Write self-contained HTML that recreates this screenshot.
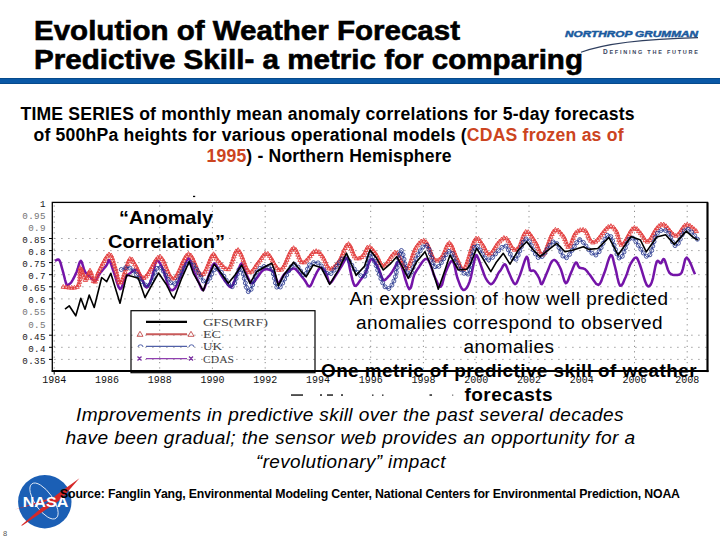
<!DOCTYPE html>
<html><head><meta charset="utf-8"><style>
html,body{margin:0;padding:0;background:#fff;width:720px;height:540px;overflow:hidden}
svg{display:block}
</style></head><body>
<svg width="720" height="540" viewBox="0 0 720 540">
<rect width="720" height="540" fill="#fff"/>
<!-- title -->
<g font-family="Liberation Sans" font-weight="bold" fill="#000" font-size="27.8" stroke="#000" stroke-width="0.6">
<text x="34" y="39.8" textLength="426" lengthAdjust="spacingAndGlyphs">Evolution of Weather Forecast</text>
<text x="34" y="68.8" textLength="549" lengthAdjust="spacingAndGlyphs">Predictive Skill- a metric for comparing</text>
</g>
<rect x="0" y="78" width="720" height="6" fill="#0a58a6"/><rect x="0" y="78" width="720" height="1" fill="#064a8c"/><rect x="0" y="83" width="720" height="1" fill="#064a8c"/>
<!-- NG logo -->
<text x="565" y="36.6" font-family="Liberation Sans" font-weight="bold" font-style="italic" font-size="8.6" fill="#1a5a9e" stroke="#1a5a9e" stroke-width="0.45" textLength="133" lengthAdjust="spacingAndGlyphs">NORTHROP GRUMMAN</text>
<path d="M581,52.3 Q615,39.5 698,37.6" fill="none" stroke="#2e3e5e" stroke-width="1.1"/>
<text x="603" y="53.8" font-family="Liberation Sans" font-weight="bold" font-size="5.5" fill="#3a4560" textLength="95" lengthAdjust="spacing"><tspan font-size="6.5">D</tspan>EFINING THE FUTURE</text>
<!-- subtitle -->
<g font-family="Liberation Sans" font-weight="bold" font-size="17.6" fill="#000">
<text x="20.5" y="120" textLength="614" lengthAdjust="spacing">TIME SERIES of monthly mean anomaly correlations for 5-day forecasts</text>
<text x="33.5" y="141" textLength="590" lengthAdjust="spacing">of 500hPa heights for various operational models (<tspan fill="#cc4420">CDAS frozen as of</tspan></text>
<text x="206.5" y="162.3" textLength="245" lengthAdjust="spacing"><tspan fill="#cc4420">1995</tspan>) - Northern Hemisphere</text>
</g>
<!-- chart -->

<g stroke="#8a8a8a" stroke-width="1" stroke-dasharray="1.2 5.8" fill="none"><line x1="54.3" y1="238.5" x2="707.5" y2="238.5"/><line x1="54.3" y1="250.6" x2="707.5" y2="250.6"/><line x1="54.3" y1="262.6" x2="707.5" y2="262.6"/><line x1="54.3" y1="274.7" x2="707.5" y2="274.7"/><line x1="54.3" y1="286.8" x2="707.5" y2="286.8"/><line x1="54.3" y1="298.9" x2="707.5" y2="298.9"/><line x1="54.3" y1="335.2" x2="707.5" y2="335.2"/><line x1="54.3" y1="347.3" x2="707.5" y2="347.3"/><line x1="54.3" y1="359.4" x2="707.5" y2="359.4"/></g>
<g stroke="#8a8a8a" stroke-width="1" stroke-dasharray="1.2 4.2" fill="none"><line x1="54.2" y1="205.4" x2="54.2" y2="371.1"/><line x1="159.7" y1="205.4" x2="159.7" y2="371.1"/><line x1="212.4" y1="205.4" x2="212.4" y2="371.1"/><line x1="265.2" y1="205.4" x2="265.2" y2="371.1"/><line x1="370.7" y1="205.4" x2="370.7" y2="371.1"/><line x1="423.4" y1="205.4" x2="423.4" y2="371.1"/><line x1="476.2" y1="205.4" x2="476.2" y2="371.1"/><line x1="529.0" y1="205.4" x2="529.0" y2="371.1"/><line x1="634.5" y1="205.4" x2="634.5" y2="371.1"/><line x1="687.2" y1="205.4" x2="687.2" y2="371.1"/></g>
<g font-family="Liberation Mono" font-size="9.2" fill="#111" letter-spacing="0.35" opacity="0.9"><text x="45.8" y="206.6" text-anchor="end" fill="#000">1</text><text x="45.8" y="218.7" text-anchor="end" fill="#666">0.95</text><text x="45.8" y="230.8" text-anchor="end" fill="#666">0.9</text><text x="45.8" y="242.9" text-anchor="end" fill="#000">0.85</text><text x="45.8" y="255.0" text-anchor="end" fill="#000">0.8</text><text x="45.8" y="267.0" text-anchor="end" fill="#000">0.75</text><text x="45.8" y="279.1" text-anchor="end" fill="#000">0.7</text><text x="45.8" y="291.2" text-anchor="end" fill="#000">0.65</text><text x="45.8" y="303.3" text-anchor="end" fill="#000">0.6</text><text x="45.8" y="315.4" text-anchor="end" fill="#666">0.55</text><text x="45.8" y="327.5" text-anchor="end" fill="#666">0.5</text><text x="45.8" y="339.6" text-anchor="end" fill="#000">0.45</text><text x="45.8" y="351.7" text-anchor="end" fill="#000">0.4</text><text x="45.8" y="363.8" text-anchor="end" fill="#000">0.35</text></g>
<g font-family="Liberation Mono" font-size="10" fill="#111"><text x="54.2" y="383" text-anchor="middle">1984</text><text x="107.0" y="383" text-anchor="middle">1986</text><text x="159.7" y="383" text-anchor="middle">1988</text><text x="212.4" y="383" text-anchor="middle">1990</text><text x="265.2" y="383" text-anchor="middle">1992</text><text x="317.9" y="383" text-anchor="middle">1994</text><text x="370.7" y="383" text-anchor="middle">1996</text><text x="423.4" y="383" text-anchor="middle">1998</text><text x="476.2" y="383" text-anchor="middle">2000</text><text x="529.0" y="383" text-anchor="middle">2002</text><text x="581.7" y="383" text-anchor="middle">2004</text><text x="634.5" y="383" text-anchor="middle">2006</text><text x="687.2" y="383" text-anchor="middle">2008</text></g>
<g stroke="#000" stroke-width="1"><line x1="49" y1="238.5" x2="52.3" y2="238.5"/><line x1="49" y1="250.6" x2="52.3" y2="250.6"/><line x1="49" y1="262.6" x2="52.3" y2="262.6"/><line x1="49" y1="274.7" x2="52.3" y2="274.7"/><line x1="49" y1="286.8" x2="52.3" y2="286.8"/><line x1="49" y1="298.9" x2="52.3" y2="298.9"/><line x1="49" y1="335.2" x2="52.3" y2="335.2"/><line x1="49" y1="347.3" x2="52.3" y2="347.3"/><line x1="49" y1="359.4" x2="52.3" y2="359.4"/></g>
<path d="M55.0,260.8 L55.8,260.4 L56.9,259.8 L58.1,259.5 L59.2,260.0 L60.1,261.7 L60.9,264.2 L61.7,267.1 L62.5,270.0 L63.4,273.2 L64.3,276.7 L65.1,280.0 L65.8,282.5 L66.3,284.0 L66.6,284.7 L66.9,285.0 L67.5,285.0 L68.4,284.7 L69.4,284.1 L70.5,283.1 L71.7,281.7 L72.9,279.7 L74.2,277.2 L75.5,274.4 L76.7,271.7 L77.8,268.5 L78.8,264.9 L79.8,262.0 L80.8,260.8 L81.8,262.1 L82.8,265.3 L83.9,268.9 L85.0,271.7 L86.2,273.4 L87.5,274.6 L88.7,275.7 L90.0,276.7 L91.2,278.1 L92.5,279.5 L93.8,280.6 L95.0,280.8 L96.2,279.8 L97.4,277.8 L98.6,275.5 L100.0,273.3 L101.7,271.2 L103.5,269.0 L105.3,266.9 L106.7,265.0 L107.6,263.1 L108.1,261.2 L108.5,259.9 L109.2,260.0 L110.3,262.0 L111.5,265.3 L112.8,269.4 L114.2,273.3 L115.6,277.7 L117.1,282.8 L118.6,287.0 L120.0,289.2 L121.3,288.2 L122.5,285.1 L123.8,281.2 L125.0,278.3 L126.2,276.6 L127.4,275.3 L128.6,274.3 L130.0,273.3 L131.6,272.1 L133.3,270.8 L135.1,270.0 L136.7,270.0 L138.1,271.2 L139.3,273.4 L140.5,275.9 L141.7,278.3 L142.9,281.0 L144.2,284.0 L145.4,286.5 L146.7,287.5 L147.9,286.7 L149.2,284.6 L150.4,281.6 L151.7,278.3 L152.9,273.9 L154.1,268.4 L155.3,263.5 L156.7,260.8 L158.3,261.0 L159.9,263.2 L161.7,266.5 L163.3,270.0 L164.8,274.3 L166.3,279.6 L167.7,284.5 L169.2,288.0 L170.6,289.7 L172.1,290.2 L173.5,289.7 L175.0,288.3 L176.6,285.6 L178.3,281.8 L180.0,277.4 L181.7,273.3 L183.4,268.9 L185.1,264.1 L186.8,260.2 L188.3,258.3 L189.6,259.3 L190.8,262.4 L192.0,266.3 L193.3,270.0 L194.8,273.4 L196.3,277.0 L197.8,280.4 L199.2,283.3 L200.3,285.9 L201.3,288.3 L202.3,289.9 L203.3,290.0 L204.5,288.1 L205.7,284.6 L207.0,280.5 L208.3,276.7 L209.7,272.8 L211.2,268.5 L212.7,265.0 L214.2,263.3 L215.6,264.2 L217.1,266.8 L218.5,270.3 L220.0,273.3 L221.7,276.0 L223.4,278.7 L225.1,281.3 L226.7,283.3 L228.1,285.0 L229.3,286.4 L230.5,287.1 L231.7,286.7 L232.9,284.8 L234.2,281.8 L235.4,278.3 L236.7,275.0 L237.9,271.5 L239.2,267.7 L240.4,264.6 L241.7,263.3 L242.9,264.7 L244.2,267.9 L245.4,271.8 L246.7,275.0 L247.9,277.6 L249.2,280.2 L250.4,282.2 L251.7,283.3 L252.9,283.1 L254.1,281.8 L255.3,280.1 L256.7,278.3 L258.2,276.3 L259.9,273.8 L261.6,271.6 L263.3,270.0 L265.0,269.3 L266.8,269.3 L268.5,269.6 L270.0,270.0 L271.2,270.4 L272.3,271.0 L273.2,271.9 L274.2,273.3 L275.2,275.7 L276.2,278.9 L277.2,281.7 L278.3,283.0 L279.6,282.1 L281.0,279.7 L282.5,276.9 L283.9,274.7 L285.3,273.3 L286.7,272.3 L288.1,271.4 L289.4,270.6 L290.7,269.8 L291.9,269.0 L293.1,268.5 L294.3,268.5 L295.5,269.2 L296.7,270.3 L297.9,271.8 L299.2,273.3 L300.5,274.9 L301.9,276.7 L303.4,278.6 L304.7,280.3 L306.0,282.3 L307.2,284.4 L308.4,286.0 L309.6,286.5 L310.8,285.3 L312.0,283.0 L313.1,280.2 L314.4,277.5 L315.7,274.8 L317.1,271.8 L318.6,269.3 L320.0,267.8 L321.4,267.7 L322.9,268.5 L324.3,270.1 L325.6,271.9 L326.7,274.6 L327.7,278.1 L328.6,281.3 L329.7,283.0 L331.0,282.6 L332.3,280.9 L333.8,278.5 L335.3,276.1 L337.0,273.5 L338.8,270.6 L340.6,267.6 L342.2,265.0 L343.6,262.5 L344.9,259.9 L346.0,258.2 L347.1,258.0 L348.1,260.0 L348.9,263.7 L349.7,268.0 L350.6,272.0 L351.5,275.9 L352.5,280.1 L353.6,283.7 L354.7,285.8 L356.0,285.8 L357.4,284.4 L358.9,282.3 L360.3,280.3 L361.7,278.5 L363.1,276.5 L364.5,274.3 L365.8,272.0 L367.0,269.2 L368.0,265.9 L369.0,262.9 L370.0,260.8 L370.8,259.6 L371.5,259.1 L372.3,259.2 L373.3,260.0 L374.6,261.7 L376.2,264.3 L377.8,267.2 L379.2,270.0 L380.3,272.8 L381.3,275.8 L382.3,278.4 L383.3,280.0 L384.5,280.2 L385.7,279.4 L387.0,278.1 L388.3,276.7 L389.6,275.3 L390.8,273.7 L392.1,271.9 L393.3,270.0 L394.6,267.7 L395.9,265.1 L397.2,262.9 L398.3,261.7 L399.2,261.6 L399.8,262.3 L400.6,263.9 L401.7,266.7 L403.3,272.0 L405.3,279.1 L407.4,285.7 L409.2,289.2 L410.6,288.1 L411.9,284.0 L413.0,279.0 L414.2,275.0 L415.4,272.5 L416.7,270.4 L417.9,268.6 L419.2,266.7 L420.6,264.5 L422.1,262.3 L423.6,260.4 L425.0,259.2 L426.1,258.8 L427.1,259.0 L428.1,259.9 L429.2,261.7 L430.5,264.9 L432.0,269.2 L433.5,273.7 L435.0,277.5 L436.5,280.8 L437.9,284.0 L439.4,286.3 L440.8,286.7 L442.1,284.6 L443.2,280.5 L444.4,275.7 L445.8,271.7 L447.4,268.0 L449.2,264.2 L450.9,261.4 L452.5,260.8 L453.9,263.3 L455.1,268.1 L456.2,273.7 L457.5,278.3 L458.9,282.1 L460.3,285.8 L461.8,288.6 L463.3,290.0 L464.9,289.7 L466.5,288.1 L468.1,285.3 L469.6,281.7 L471.1,276.3 L472.5,269.4 L473.9,262.7 L475.0,258.0 L475.8,255.8 L476.3,255.0 L476.8,255.5 L477.5,256.7 L478.6,259.1 L479.9,262.7 L481.3,266.7 L482.5,270.0 L483.4,272.5 L484.1,274.6 L484.9,276.5 L485.8,278.3 L486.9,280.2 L488.2,282.0 L489.6,283.5 L490.8,284.2 L491.9,283.9 L493.0,282.9 L494.0,281.5 L495.0,280.0 L495.9,278.4 L496.8,276.6 L497.6,274.8 L498.3,273.3 L498.9,272.3 L499.5,271.6 L500.1,270.9 L500.8,270.0 L501.7,268.4 L502.8,266.3 L503.9,264.7 L505.0,264.2 L506.0,265.4 L507.0,267.7 L508.0,270.5 L509.2,273.3 L510.6,276.4 L512.1,279.9 L513.6,282.8 L515.0,284.2 L516.3,283.5 L517.4,281.4 L518.6,278.4 L520.0,275.0 L521.6,270.3 L523.5,264.4 L525.2,259.3 L526.7,256.7 L527.7,258.1 L528.5,262.2 L529.2,266.8 L530.0,270.0 L531.0,270.9 L532.0,270.8 L533.1,270.4 L534.2,270.8 L535.5,272.2 L536.8,274.2 L538.1,276.4 L539.2,278.3 L539.9,280.3 L540.5,282.4 L541.0,283.9 L541.7,284.2 L542.8,282.7 L544.0,279.8 L545.4,276.5 L546.7,273.3 L548.0,270.2 L549.3,266.9 L550.5,263.9 L551.7,261.7 L552.8,260.5 L553.8,260.0 L554.7,260.1 L555.8,260.8 L557.0,262.1 L558.2,264.1 L559.5,266.5 L560.8,269.2 L562.0,272.9 L563.3,277.4 L564.5,281.3 L565.8,283.3 L567.0,282.5 L568.3,279.9 L569.5,276.4 L570.8,273.3 L572.1,270.3 L573.4,267.0 L574.7,264.1 L575.8,262.5 L576.7,262.7 L577.5,264.2 L578.2,266.1 L579.2,267.5 L580.5,268.1 L582.0,268.3 L583.6,268.6 L585.0,269.2 L586.2,270.3 L587.3,271.6 L588.5,273.2 L590.0,275.0 L591.9,277.7 L594.1,281.1 L596.3,283.9 L598.3,285.0 L599.9,283.8 L601.4,280.9 L602.7,277.2 L604.2,273.3 L605.9,268.5 L607.6,262.7 L609.3,257.6 L610.8,255.0 L612.0,255.6 L613.0,258.5 L613.9,262.6 L615.0,266.7 L616.2,271.6 L617.4,277.5 L618.7,282.8 L620.0,285.8 L621.4,285.6 L623.0,283.2 L624.4,279.8 L625.8,276.7 L626.9,273.9 L627.9,270.8 L628.9,267.7 L630.0,265.0 L631.4,262.5 L632.9,260.1 L634.4,258.2 L635.8,257.5 L636.9,258.0 L637.8,259.5 L638.8,261.9 L640.0,265.0 L641.5,269.6 L643.3,275.6 L645.1,281.3 L646.7,285.0 L648.1,286.4 L649.3,286.3 L650.5,284.9 L651.7,282.5 L653.0,278.1 L654.3,271.8 L655.5,265.8 L656.7,261.7 L657.8,260.7 L658.9,261.5 L659.8,262.8 L660.8,263.3 L661.7,262.3 L662.4,260.5 L663.3,259.1 L664.2,259.2 L665.3,261.6 L666.5,265.4 L667.8,269.5 L669.2,272.5 L670.8,274.0 L672.4,274.7 L674.2,275.0 L675.8,275.0 L677.3,275.0 L678.8,274.8 L680.3,274.1 L681.7,272.5 L682.9,268.9 L684.1,263.8 L685.2,259.3 L686.7,257.5 L688.7,259.8 L691.2,264.9 L693.4,270.5 L695.0,274.2" fill="none" stroke="#7414a8" stroke-width="2.5" stroke-linejoin="round"/>
<path d="M61.1,288.3L63.3,284.5L65.5,288.3ZM63.9,288.6L66.1,284.8L68.3,288.6ZM66.7,289.0L68.9,285.1L71.1,289.0ZM69.5,289.2L71.7,285.4L73.9,289.2ZM72.2,289.1L74.4,285.3L76.6,289.1ZM74.9,288.3L77.1,284.4L79.3,288.3ZM76.6,286.2L78.8,282.3L81.0,286.2ZM77.2,283.4L79.4,279.6L81.6,283.4ZM77.5,280.7L79.7,276.8L81.9,280.7ZM77.6,277.9L79.8,274.0L82.0,277.9ZM77.6,275.1L79.8,271.2L82.0,275.1ZM77.7,272.3L79.9,268.4L82.1,272.3ZM78.0,269.5L80.2,265.6L82.4,269.5ZM79.4,270.9L81.6,267.0L83.8,270.9ZM80.3,273.5L82.5,269.7L84.7,273.5ZM81.1,276.2L83.3,272.4L85.5,276.2ZM81.9,278.9L84.1,275.0L86.3,278.9ZM83.2,281.4L85.4,277.5L87.6,281.4ZM84.8,279.7L87.0,275.9L89.2,279.7ZM85.6,277.1L87.8,273.2L90.0,277.1ZM86.4,274.4L88.6,270.6L90.8,274.4ZM87.8,272.1L90.0,268.2L92.2,272.1ZM89.0,274.5L91.2,270.6L93.4,274.5ZM89.8,277.2L92.0,273.3L94.2,277.2ZM90.5,279.9L92.7,276.0L94.9,279.9ZM91.3,282.6L93.5,278.7L95.7,282.6ZM93.0,283.1L95.2,279.2L97.4,283.1ZM94.0,280.4L96.2,276.6L98.4,280.4ZM94.7,277.7L96.9,273.9L99.1,277.7ZM95.6,275.1L97.8,271.2L100.0,275.1ZM96.8,272.5L99.0,268.7L101.2,272.5ZM98.0,270.0L100.2,266.2L102.4,270.0ZM99.3,267.5L101.5,263.7L103.7,267.5ZM100.5,265.0L102.7,261.2L104.9,265.0ZM101.9,262.5L104.1,258.7L106.3,262.5ZM103.2,260.1L105.4,256.3L107.6,260.1ZM104.8,257.8L107.0,253.9L109.2,257.8ZM106.8,255.9L109.0,252.0L111.2,255.9ZM109.0,257.0L111.2,253.1L113.4,257.0ZM110.1,259.5L112.3,255.7L114.5,259.5ZM110.9,262.2L113.1,258.3L115.3,262.2ZM111.7,264.9L113.9,261.0L116.1,264.9ZM112.5,267.6L114.7,263.7L116.9,267.6ZM113.4,270.2L115.6,266.4L117.8,270.2ZM114.1,272.9L116.3,269.1L118.5,272.9ZM114.7,275.7L116.9,271.8L119.1,275.7ZM115.3,278.4L117.5,274.6L119.7,278.4ZM115.9,281.1L118.1,277.3L120.3,281.1ZM116.8,283.8L119.0,279.9L121.2,283.8ZM118.8,283.8L121.0,280.0L123.2,283.8ZM120.0,281.3L122.2,277.5L124.4,281.3ZM121.0,278.7L123.2,274.9L125.4,278.7ZM121.8,276.0L124.0,272.2L126.2,276.0ZM122.7,273.4L124.9,269.5L127.1,273.4ZM123.5,270.7L125.7,266.8L127.9,270.7ZM124.3,268.0L126.5,264.2L128.7,268.0ZM125.2,265.4L127.4,261.5L129.6,265.4ZM126.2,262.7L128.4,258.9L130.6,262.7ZM127.6,260.4L129.8,256.5L132.0,260.4ZM129.9,261.0L132.1,257.1L134.3,261.0ZM131.2,263.4L133.4,259.6L135.6,263.4ZM132.7,265.8L134.9,261.9L137.1,265.8ZM134.1,268.2L136.3,264.4L138.5,268.2ZM135.3,270.7L137.5,266.9L139.7,270.7ZM136.4,273.3L138.6,269.4L140.8,273.3ZM137.7,275.8L139.9,272.0L142.1,275.8ZM139.2,278.1L141.4,274.3L143.6,278.1ZM141.6,279.4L143.8,275.6L146.0,279.4ZM143.8,277.9L146.0,274.0L148.2,277.9ZM145.5,275.6L147.7,271.8L149.9,275.6ZM147.0,273.3L149.2,269.4L151.4,273.3ZM148.3,270.8L150.5,267.0L152.7,270.8ZM149.7,268.4L151.9,264.5L154.1,268.4ZM151.0,265.9L153.2,262.1L155.4,265.9ZM152.4,263.5L154.6,259.6L156.8,263.5ZM153.9,261.1L156.1,257.3L158.3,261.1ZM155.7,259.0L157.9,255.2L160.1,259.0ZM158.1,258.3L160.3,254.4L162.5,258.3ZM160.0,260.4L162.2,256.5L164.4,260.4ZM161.5,262.8L163.7,258.9L165.9,262.8ZM162.6,265.3L164.8,261.5L167.0,265.3ZM163.6,267.9L165.8,264.1L168.0,267.9ZM164.7,270.5L166.9,266.7L169.1,270.5ZM165.7,273.1L167.9,269.3L170.1,273.1ZM166.9,275.7L169.1,271.8L171.3,275.7ZM168.3,278.1L170.5,274.2L172.7,278.1ZM170.2,280.0L172.4,276.2L174.6,280.0ZM172.7,279.4L174.9,275.6L177.1,279.4ZM174.3,277.2L176.5,273.4L178.7,277.2ZM175.6,274.7L177.8,270.9L180.0,274.7ZM176.8,272.2L179.0,268.4L181.2,272.2ZM178.0,269.6L180.2,265.8L182.4,269.6ZM179.1,267.1L181.3,263.2L183.5,267.1ZM180.2,264.5L182.4,260.7L184.6,264.5ZM181.4,262.0L183.6,258.1L185.8,262.0ZM182.6,259.5L184.8,255.6L187.0,259.5ZM184.1,257.1L186.3,253.3L188.5,257.1ZM186.3,255.4L188.5,251.5L190.7,255.4ZM188.6,256.8L190.8,253.0L193.0,256.8ZM190.1,259.1L192.3,255.3L194.5,259.1ZM191.3,261.7L193.5,257.8L195.7,261.7ZM192.4,264.2L194.6,260.4L196.8,264.2ZM193.5,266.8L195.7,263.0L197.9,266.8ZM194.5,269.4L196.7,265.6L198.9,269.4ZM195.7,272.0L197.9,268.1L200.1,272.0ZM197.0,274.4L199.2,270.6L201.4,274.4ZM198.9,276.4L201.1,272.5L203.3,276.4ZM201.2,275.4L203.4,271.6L205.6,275.4ZM202.8,273.1L205.0,269.2L207.2,273.1ZM204.0,270.6L206.2,266.7L208.4,270.6ZM205.1,268.0L207.3,264.2L209.5,268.0ZM206.2,265.4L208.4,261.6L210.6,265.4ZM207.2,262.8L209.4,259.0L211.6,262.8ZM208.3,260.2L210.5,256.4L212.7,260.2ZM209.4,257.7L211.6,253.8L213.8,257.7ZM211.3,255.6L213.5,251.8L215.7,255.6ZM213.0,257.5L215.2,253.7L217.4,257.5ZM214.1,260.1L216.3,256.2L218.5,260.1ZM215.9,262.2L218.1,258.4L220.3,262.2ZM217.7,264.3L219.9,260.5L222.1,264.3ZM219.5,266.5L221.7,262.6L223.9,266.5ZM221.4,268.5L223.6,264.7L225.8,268.5ZM223.6,270.3L225.8,266.5L228.0,270.3ZM226.3,270.7L228.5,266.8L230.7,270.7ZM227.9,268.4L230.1,264.6L232.3,268.4ZM229.0,265.9L231.2,262.0L233.4,265.9ZM230.0,263.2L232.2,259.4L234.4,263.2ZM230.8,260.6L233.0,256.7L235.2,260.6ZM231.7,257.9L233.9,254.1L236.1,257.9ZM232.6,255.3L234.8,251.4L237.0,255.3ZM233.8,252.8L236.0,248.9L238.2,252.8ZM235.9,251.5L238.1,247.6L240.3,251.5ZM237.7,253.6L239.9,249.7L242.1,253.6ZM238.9,256.1L241.1,252.2L243.3,256.1ZM240.0,258.7L242.2,254.8L244.4,258.7ZM241.0,261.3L243.2,257.4L245.4,261.3ZM242.0,263.9L244.2,260.1L246.4,263.9ZM242.9,266.5L245.1,262.7L247.3,266.5ZM244.0,269.1L246.2,265.3L248.4,269.1ZM245.2,271.7L247.4,267.8L249.6,271.7ZM247.1,273.7L249.3,269.8L251.5,273.7ZM249.6,273.0L251.8,269.2L254.0,273.0ZM251.4,270.9L253.6,267.0L255.8,270.9ZM252.9,268.5L255.1,264.7L257.3,268.5ZM254.4,266.2L256.6,262.3L258.8,266.2ZM256.1,264.0L258.3,260.1L260.5,264.0ZM257.8,261.8L260.0,257.9L262.2,261.8ZM259.4,259.4L261.6,255.6L263.8,259.4ZM261.0,257.1L263.2,253.3L265.4,257.1ZM263.0,255.3L265.2,251.4L267.4,255.3ZM265.6,255.3L267.8,251.4L270.0,255.3ZM267.5,257.3L269.7,253.4L271.9,257.3ZM269.0,259.6L271.2,255.8L273.4,259.6ZM270.4,262.1L272.6,258.2L274.8,262.1ZM271.7,264.5L273.9,260.7L276.1,264.5ZM273.1,267.0L275.3,263.1L277.5,267.0ZM274.7,269.3L276.9,265.5L279.1,269.3ZM276.6,271.3L278.8,267.4L281.0,271.3ZM279.2,271.0L281.4,267.1L283.6,271.0ZM280.9,268.8L283.1,265.0L285.3,268.8ZM282.3,266.4L284.5,262.5L286.7,266.4ZM283.5,263.9L285.7,260.0L287.9,263.9ZM284.6,261.3L286.8,257.4L289.0,261.3ZM285.7,258.7L287.9,254.9L290.1,258.7ZM286.8,256.1L289.0,252.3L291.2,256.1ZM288.0,253.6L290.2,249.8L292.4,253.6ZM289.4,251.2L291.6,247.3L293.8,251.2ZM291.4,249.5L293.6,245.7L295.8,249.5ZM293.6,251.1L295.8,247.3L298.0,251.1ZM294.8,253.6L297.0,249.8L299.2,253.6ZM295.8,256.2L298.0,252.4L300.2,256.2ZM296.8,258.8L299.0,255.0L301.2,258.8ZM297.9,261.4L300.1,257.6L302.3,261.4ZM299.5,263.7L301.7,259.8L303.9,263.7ZM302.1,263.8L304.3,259.9L306.5,263.8ZM304.2,262.0L306.4,258.1L308.6,262.0ZM306.0,259.9L308.2,256.0L310.4,259.9ZM307.8,257.7L310.0,253.8L312.2,257.7ZM309.5,255.5L311.7,251.6L313.9,255.5ZM311.4,253.5L313.6,249.6L315.8,253.5ZM314.0,252.5L316.2,248.7L318.4,252.5ZM316.6,253.5L318.8,249.6L321.0,253.5ZM318.5,255.5L320.7,251.7L322.9,255.5ZM320.2,257.7L322.4,253.9L324.6,257.7ZM321.6,260.1L323.8,256.3L326.0,260.1ZM322.8,262.7L325.0,258.8L327.2,262.7ZM323.9,265.3L326.1,261.4L328.3,265.3ZM325.1,267.8L327.3,263.9L329.5,267.8ZM326.8,269.9L329.0,266.1L331.2,269.9ZM329.4,270.2L331.6,266.4L333.8,270.2ZM331.8,268.7L334.0,264.8L336.2,268.7ZM333.7,266.7L335.9,262.8L338.1,266.7ZM335.5,264.5L337.7,260.7L339.9,264.5ZM337.1,262.2L339.3,258.4L341.5,262.2ZM338.5,259.8L340.7,255.9L342.9,259.8ZM339.6,257.2L341.8,253.4L344.0,257.2ZM340.7,254.6L342.9,250.8L345.1,254.6ZM341.7,252.1L343.9,248.2L346.1,252.1ZM342.9,249.5L345.1,245.6L347.3,249.5ZM344.2,247.0L346.4,243.2L348.6,247.0ZM346.3,245.5L348.5,241.6L350.7,245.5ZM348.1,247.4L350.3,243.6L352.5,247.4ZM349.2,250.0L351.4,246.1L353.6,250.0ZM350.2,252.6L352.4,248.7L354.6,252.6ZM351.2,255.2L353.4,251.4L355.6,255.2ZM352.3,257.8L354.5,253.9L356.7,257.8ZM354.2,259.8L356.4,255.9L358.6,259.8ZM357.0,259.8L359.2,256.0L361.4,259.8ZM359.4,258.5L361.6,254.6L363.8,258.5ZM361.4,256.6L363.6,252.7L365.8,256.6ZM362.7,254.1L364.9,250.3L367.1,254.1ZM363.8,251.5L366.0,247.7L368.2,251.5ZM365.1,249.1L367.3,245.2L369.5,249.1ZM367.5,248.5L369.7,244.6L371.9,248.5ZM369.6,250.3L371.8,246.4L374.0,250.3ZM371.4,252.4L373.6,248.6L375.8,252.4ZM373.1,254.7L375.3,250.8L377.5,254.7ZM374.6,257.0L376.8,253.2L379.0,257.0ZM375.9,259.5L378.1,255.7L380.3,259.5ZM377.0,262.1L379.2,258.2L381.4,262.1ZM378.2,264.6L380.4,260.8L382.6,264.6ZM379.9,266.9L382.1,263.0L384.3,266.9ZM382.4,267.1L384.6,263.2L386.8,267.1ZM384.3,265.1L386.5,261.2L388.7,265.1ZM385.9,262.8L388.1,259.0L390.3,262.8ZM387.5,260.5L389.7,256.6L391.9,260.5ZM389.0,258.1L391.2,254.3L393.4,258.1ZM390.8,256.0L393.0,252.2L395.2,256.0ZM392.7,253.9L394.9,250.1L397.1,253.9ZM395.1,254.6L397.3,250.7L399.5,254.6ZM396.6,257.0L398.8,253.1L401.0,257.0ZM397.8,259.5L400.0,255.7L402.2,259.5ZM398.9,262.1L401.1,258.2L403.3,262.1ZM400.0,264.6L402.2,260.8L404.4,264.6ZM401.2,267.1L403.4,263.3L405.6,267.1ZM402.8,269.5L405.0,265.6L407.2,269.5ZM405.1,269.8L407.3,266.0L409.5,269.8ZM406.7,267.5L408.9,263.7L411.1,267.5ZM407.7,265.0L409.9,261.1L412.1,265.0ZM408.7,262.3L410.9,258.5L413.1,262.3ZM409.6,259.7L411.8,255.8L414.0,259.7ZM410.4,257.0L412.6,253.2L414.8,257.0ZM411.3,254.4L413.5,250.5L415.7,254.4ZM412.4,251.7L414.6,247.9L416.8,251.7ZM413.6,249.2L415.8,245.4L418.0,249.2ZM415.2,246.9L417.4,243.1L419.6,246.9ZM416.9,244.7L419.1,240.9L421.3,244.7ZM419.0,242.9L421.2,239.0L423.4,242.9ZM421.6,242.1L423.8,238.2L426.0,242.1ZM423.9,243.5L426.1,239.7L428.3,243.5ZM425.3,245.9L427.5,242.0L429.7,245.9ZM426.5,248.4L428.7,244.6L430.9,248.4ZM427.5,251.0L429.7,247.2L431.9,251.0ZM428.5,253.7L430.7,249.8L432.9,253.7ZM429.6,256.3L431.8,252.4L434.0,256.3ZM430.7,258.8L432.9,254.9L435.1,258.8ZM432.3,261.1L434.5,257.3L436.7,261.1ZM434.8,262.1L437.0,258.2L439.2,262.1ZM437.3,260.9L439.5,257.0L441.7,260.9ZM439.2,258.9L441.4,255.0L443.6,258.9ZM440.8,256.6L443.0,252.7L445.2,256.6ZM441.9,254.0L444.1,250.2L446.3,254.0ZM443.0,251.4L445.2,247.6L447.4,251.4ZM444.0,248.8L446.2,245.0L448.4,248.8ZM445.2,246.3L447.4,242.4L449.6,246.3ZM447.2,244.5L449.4,240.6L451.6,244.5ZM449.1,246.4L451.3,242.6L453.5,246.4ZM450.3,249.0L452.5,245.1L454.7,249.0ZM451.3,251.6L453.5,247.7L455.7,251.6ZM452.3,254.2L454.5,250.3L456.7,254.2ZM453.3,256.8L455.5,252.9L457.7,256.8ZM454.5,259.3L456.7,255.5L458.9,259.3ZM455.7,261.9L457.9,258.0L460.1,261.9ZM456.7,264.5L458.9,260.6L461.1,264.5ZM457.8,267.1L460.0,263.2L462.2,267.1ZM459.0,269.6L461.2,265.7L463.4,269.6ZM461.2,270.7L463.4,266.9L465.6,270.7ZM463.0,268.6L465.2,264.8L467.4,268.6ZM464.1,266.0L466.3,262.2L468.5,266.0ZM465.0,263.4L467.2,259.6L469.4,263.4ZM465.9,260.8L468.1,256.9L470.3,260.8ZM466.8,258.1L469.0,254.2L471.2,258.1ZM467.6,255.4L469.8,251.6L472.0,255.4ZM468.4,252.7L470.6,248.9L472.8,252.7ZM469.3,250.1L471.5,246.2L473.7,250.1ZM470.1,247.4L472.3,243.6L474.5,247.4ZM471.1,244.8L473.3,240.9L475.5,244.8ZM472.2,242.2L474.4,238.4L476.6,242.2ZM473.8,240.0L476.0,236.1L478.2,240.0ZM476.3,240.3L478.5,236.4L480.7,240.3ZM478.0,242.5L480.2,238.7L482.4,242.5ZM479.4,244.9L481.6,241.1L483.8,244.9ZM481.1,247.2L483.3,243.3L485.5,247.2ZM482.4,249.6L484.6,245.8L486.8,249.6ZM483.6,252.2L485.8,248.3L488.0,252.2ZM485.0,254.6L487.2,250.7L489.4,254.6ZM487.2,256.0L489.4,252.2L491.6,256.0ZM489.4,254.3L491.6,250.4L493.8,254.3ZM491.0,252.0L493.2,248.2L495.4,252.0ZM492.5,249.6L494.7,245.8L496.9,249.6ZM493.9,247.3L496.1,243.4L498.3,247.3ZM495.5,245.0L497.7,241.1L499.9,245.0ZM497.4,242.9L499.6,239.0L501.8,242.9ZM499.4,240.9L501.6,237.1L503.8,240.9ZM501.7,239.4L503.9,235.5L506.1,239.4ZM504.3,239.9L506.5,236.1L508.7,239.9ZM506.0,242.1L508.2,238.3L510.4,242.1ZM507.4,244.6L509.6,240.7L511.8,244.6ZM508.7,247.1L510.9,243.2L513.1,247.1ZM510.1,249.5L512.3,245.6L514.5,249.5ZM512.3,251.2L514.5,247.3L516.7,251.2ZM514.9,250.7L517.1,246.8L519.3,250.7ZM516.7,248.6L518.9,244.8L521.1,248.6ZM518.0,246.1L520.2,242.3L522.4,246.1ZM518.9,243.5L521.1,239.6L523.3,243.5ZM519.9,240.8L522.1,237.0L524.3,240.8ZM520.8,238.2L523.0,234.4L525.2,238.2ZM521.9,235.6L524.1,231.8L526.3,235.6ZM523.5,233.4L525.7,229.5L527.9,233.4ZM526.0,233.6L528.2,229.7L530.4,233.6ZM527.9,235.6L530.1,231.8L532.3,235.6ZM529.5,237.9L531.7,234.1L533.9,237.9ZM531.0,240.3L533.2,236.4L535.4,240.3ZM532.5,242.7L534.7,238.8L536.9,242.7ZM534.0,245.0L536.2,241.2L538.4,245.0ZM535.2,247.6L537.4,243.7L539.6,247.6ZM536.2,250.2L538.4,246.3L540.6,250.2ZM537.2,252.8L539.4,248.9L541.6,252.8ZM538.5,255.2L540.7,251.4L542.9,255.2ZM540.9,256.0L543.1,252.1L545.3,256.0ZM542.5,253.7L544.7,249.8L546.9,253.7ZM543.7,251.2L545.9,247.3L548.1,251.2ZM544.7,248.6L546.9,244.7L549.1,248.6ZM545.7,245.9L547.9,242.1L550.1,245.9ZM546.7,243.3L548.9,239.5L551.1,243.3ZM547.6,240.7L549.8,236.8L552.0,240.7ZM548.7,238.1L550.9,234.2L553.1,238.1ZM549.8,235.5L552.0,231.7L554.2,235.5ZM551.2,233.1L553.4,229.2L555.6,233.1ZM553.2,231.3L555.4,227.4L557.6,231.3ZM555.9,231.9L558.1,228.0L560.3,231.9ZM557.9,233.7L560.1,229.9L562.3,233.7ZM559.7,235.9L561.9,232.0L564.1,235.9ZM561.5,238.1L563.7,234.2L565.9,238.1ZM562.7,240.6L564.9,236.7L567.1,240.6ZM563.7,243.2L565.9,239.3L568.1,243.2ZM564.6,245.8L566.8,242.0L569.0,245.8ZM565.9,248.3L568.1,244.5L570.3,248.3ZM567.9,247.2L570.1,243.4L572.3,247.2ZM569.0,244.7L571.2,240.8L573.4,244.7ZM570.0,242.0L572.2,238.2L574.4,242.0ZM570.9,239.4L573.1,235.5L575.3,239.4ZM572.0,236.8L574.2,233.0L576.4,236.8ZM573.4,234.4L575.6,230.6L577.8,234.4ZM575.6,232.7L577.8,228.8L580.0,232.7ZM578.1,231.5L580.3,227.7L582.5,231.5ZM580.9,231.2L583.1,227.4L585.3,231.2ZM583.4,232.3L585.6,228.5L587.8,232.3ZM584.8,234.7L587.0,230.8L589.2,234.7ZM585.9,237.3L588.1,233.4L590.3,237.3ZM587.0,239.9L589.2,236.0L591.4,239.9ZM588.5,242.2L590.7,238.3L592.9,242.2ZM590.7,243.9L592.9,240.0L595.1,243.9ZM593.3,243.0L595.5,239.2L597.7,243.0ZM595.3,241.2L597.5,237.3L599.7,241.2ZM597.1,239.0L599.3,235.2L601.5,239.0ZM598.8,236.8L601.0,232.9L603.2,236.8ZM600.5,234.6L602.7,230.7L604.9,234.6ZM602.2,232.4L604.4,228.5L606.6,232.4ZM604.1,230.2L606.3,226.4L608.5,230.2ZM606.1,228.4L608.3,224.5L610.5,228.4ZM608.7,227.5L610.9,223.7L613.1,227.5ZM611.2,228.8L613.4,224.9L615.6,228.8ZM612.9,230.9L615.1,227.1L617.3,230.9ZM614.5,233.3L616.7,229.4L618.9,233.3ZM615.4,235.9L617.6,232.0L619.8,235.9ZM616.1,238.6L618.3,234.7L620.5,238.6ZM616.8,241.3L619.0,237.5L621.2,241.3ZM617.6,244.0L619.8,240.1L622.0,244.0ZM619.1,246.2L621.3,242.4L623.5,246.2ZM621.3,245.1L623.5,241.2L625.7,245.1ZM622.9,242.7L625.1,238.9L627.3,242.7ZM624.3,240.3L626.5,236.5L628.7,240.3ZM625.6,237.8L627.8,234.0L630.0,237.8ZM626.9,235.4L629.1,231.5L631.3,235.4ZM628.3,232.9L630.5,229.1L632.7,232.9ZM629.9,230.7L632.1,226.8L634.3,230.7ZM632.2,229.3L634.4,225.4L636.6,229.3ZM634.7,230.5L636.9,226.6L639.1,230.5ZM636.5,232.6L638.7,228.7L640.9,232.6ZM638.4,234.7L640.6,230.8L642.8,234.7ZM640.0,236.9L642.2,233.1L644.4,236.9ZM641.5,239.3L643.7,235.5L645.9,239.3ZM643.0,241.7L645.2,237.8L647.4,241.7ZM645.2,243.1L647.4,239.3L649.6,243.1ZM647.4,241.6L649.6,237.7L651.8,241.6ZM648.9,239.2L651.1,235.4L653.3,239.2ZM650.3,236.8L652.5,232.9L654.7,236.8ZM651.6,234.3L653.8,230.5L656.0,234.3ZM653.0,231.9L655.2,228.0L657.4,231.9ZM654.6,229.6L656.8,225.8L659.0,229.6ZM656.6,227.6L658.8,223.7L661.0,227.6ZM658.8,226.0L661.0,222.1L663.2,226.0ZM661.5,226.0L663.7,222.1L665.9,226.0ZM663.8,227.5L666.0,223.7L668.2,227.5ZM665.7,229.6L667.9,225.8L670.1,229.6ZM667.4,231.8L669.6,228.0L671.8,231.8ZM669.2,234.0L671.4,230.2L673.6,234.0ZM671.1,236.0L673.3,232.1L675.5,236.0ZM673.6,237.2L675.8,233.4L678.0,237.2ZM676.0,235.9L678.2,232.1L680.4,235.9ZM677.7,233.8L679.9,229.9L682.1,233.8ZM679.2,231.4L681.4,227.6L683.6,231.4ZM680.8,229.1L683.0,225.2L685.2,229.1ZM682.6,226.9L684.8,223.1L687.0,226.9ZM685.1,226.1L687.3,222.3L689.5,226.1ZM687.7,227.2L689.9,223.3L692.1,227.2ZM689.9,228.8L692.1,225.0L694.3,228.8ZM692.0,230.7L694.2,226.8L696.4,230.7ZM694.1,232.6L696.3,228.7L698.5,232.6Z" fill="none" stroke="#e23c3c" stroke-width="0.9"/>
<path d="M63.3,286.7 L64.5,286.8 L66.2,287.0 L68.3,287.3 L70.5,287.5 L72.7,287.6 L74.8,287.4 L76.7,286.9 L78.0,286.0 L78.9,284.3 L79.4,281.9 L79.7,279.0 L79.8,275.9 L79.8,272.9 L79.9,270.3 L80.1,268.4 L80.4,267.4 L80.9,267.6 L81.5,268.9 L82.2,270.8 L82.9,273.1 L83.6,275.5 L84.3,277.7 L85.0,279.3 L85.6,280.0 L86.2,279.7 L86.8,278.7 L87.3,277.1 L87.8,275.2 L88.4,273.4 L88.9,271.8 L89.5,270.7 L90.0,270.4 L90.5,271.0 L91.1,272.4 L91.6,274.3 L92.2,276.4 L92.7,278.5 L93.3,280.4 L93.8,281.7 L94.4,282.2 L94.9,281.9 L95.4,281.2 L95.8,279.9 L96.3,278.4 L96.8,276.6 L97.4,274.7 L98.1,272.8 L98.9,271.0 L99.9,268.9 L101.2,266.4 L102.6,263.7 L104.0,261.0 L105.5,258.4 L106.9,256.2 L108.2,254.7 L109.3,254.0 L110.3,254.2 L111.1,255.2 L111.9,256.7 L112.6,258.7 L113.2,260.9 L113.9,263.2 L114.5,265.4 L115.2,267.4 L115.9,269.5 L116.5,272.1 L117.0,274.8 L117.6,277.5 L118.2,279.9 L118.9,281.8 L119.6,282.9 L120.4,283.0 L121.4,281.7 L122.4,279.2 L123.6,275.7 L124.8,271.8 L126.0,267.8 L127.2,264.2 L128.3,261.2 L129.3,259.3 L130.1,258.5 L130.8,258.2 L131.4,258.5 L132.0,259.2 L132.6,260.3 L133.2,261.4 L134.0,262.7 L134.8,263.9 L135.7,265.4 L136.8,267.5 L137.8,269.9 L138.9,272.4 L140.1,274.6 L141.3,276.5 L142.6,277.6 L144.0,277.8 L145.5,276.8 L147.2,274.8 L148.9,272.0 L150.7,268.9 L152.5,265.6 L154.2,262.5 L155.7,260.0 L157.0,258.3 L158.0,257.3 L158.8,256.7 L159.4,256.4 L159.9,256.4 L160.4,256.7 L161.0,257.3 L161.7,258.2 L162.6,259.3 L163.7,261.1 L164.9,263.9 L166.2,267.2 L167.6,270.6 L169.0,273.9 L170.5,276.5 L172.1,278.3 L173.7,278.7 L175.4,277.4 L177.2,274.5 L179.1,270.5 L181.0,266.1 L182.9,261.6 L184.8,257.7 L186.7,254.9 L188.5,253.7 L190.2,254.4 L191.9,256.7 L193.6,260.1 L195.2,264.1 L196.8,268.0 L198.4,271.5 L200.0,274.0 L201.5,275.0 L203.0,274.3 L204.6,272.2 L206.1,269.3 L207.6,265.8 L209.0,262.2 L210.3,258.9 L211.5,256.2 L212.6,254.6 L213.5,254.0 L214.1,254.0 L214.6,254.5 L215.0,255.4 L215.4,256.4 L215.9,257.6 L216.5,258.8 L217.4,259.8 L218.5,261.0 L219.8,262.5 L221.2,264.2 L222.7,265.9 L224.2,267.5 L225.7,268.6 L227.2,269.2 L228.5,269.0 L229.7,267.7 L230.9,265.2 L232.0,262.0 L233.1,258.5 L234.3,255.1 L235.4,252.2 L236.6,250.2 L237.8,249.6 L239.1,250.6 L240.5,253.0 L241.9,256.3 L243.4,260.1 L244.8,264.0 L246.2,267.6 L247.6,270.3 L248.9,271.9 L250.1,272.2 L251.3,271.8 L252.5,270.7 L253.6,269.2 L254.7,267.5 L255.8,265.7 L257.0,264.0 L258.1,262.6 L259.2,261.3 L260.3,259.7 L261.4,258.0 L262.5,256.3 L263.6,254.9 L264.8,253.8 L266.1,253.2 L267.4,253.3 L268.8,254.4 L270.4,256.6 L272.0,259.4 L273.7,262.5 L275.4,265.4 L277.1,268.0 L278.8,269.6 L280.4,270.0 L282.0,268.8 L283.7,266.3 L285.4,262.9 L287.1,259.0 L288.7,255.1 L290.3,251.7 L291.9,249.1 L293.3,247.8 L294.6,248.1 L295.8,249.5 L296.9,251.8 L298.0,254.5 L299.1,257.4 L300.2,259.9 L301.3,261.8 L302.6,262.6 L304.0,262.3 L305.6,261.2 L307.2,259.5 L308.8,257.5 L310.4,255.4 L312.0,253.5 L313.5,251.9 L314.8,251.1 L316.0,250.8 L317.0,250.9 L317.9,251.3 L318.8,251.9 L319.6,252.7 L320.5,253.6 L321.3,254.6 L322.2,255.7 L323.1,257.1 L324.0,258.8 L324.9,260.9 L325.8,262.9 L326.7,264.9 L327.6,266.7 L328.6,268.0 L329.6,268.7 L330.7,268.8 L331.8,268.5 L333.0,267.9 L334.1,266.9 L335.3,265.7 L336.5,264.3 L337.7,262.9 L338.9,261.3 L340.1,259.4 L341.2,256.9 L342.4,254.1 L343.6,251.2 L344.8,248.4 L345.9,246.1 L347.0,244.5 L348.1,243.7 L349.1,244.0 L350.1,245.3 L351.0,247.3 L352.0,249.7 L352.9,252.2 L353.8,254.5 L354.7,256.4 L355.6,257.6 L356.5,258.2 L357.5,258.4 L358.5,258.4 L359.4,258.1 L360.4,257.6 L361.3,257.1 L362.2,256.4 L363.0,255.7 L363.8,254.8 L364.5,253.5 L365.1,252.1 L365.8,250.5 L366.4,249.1 L367.0,247.8 L367.7,246.9 L368.5,246.5 L369.3,246.6 L370.2,247.1 L371.1,247.9 L372.1,248.9 L373.0,250.1 L374.0,251.3 L375.0,252.6 L375.9,253.9 L376.8,255.3 L377.7,257.1 L378.6,259.1 L379.5,261.1 L380.4,262.9 L381.3,264.4 L382.3,265.5 L383.3,265.9 L384.4,265.6 L385.6,264.5 L386.8,263.0 L388.1,261.2 L389.4,259.3 L390.5,257.5 L391.6,255.9 L392.6,254.8 L393.4,254.0 L394.0,253.3 L394.5,252.7 L395.0,252.2 L395.5,252.0 L396.0,252.0 L396.6,252.3 L397.4,253.0 L398.3,254.4 L399.4,256.6 L400.6,259.2 L401.8,262.1 L403.0,264.8 L404.3,267.0 L405.5,268.4 L406.7,268.7 L407.9,267.7 L409.0,265.6 L410.2,262.8 L411.3,259.4 L412.4,255.9 L413.6,252.6 L414.7,249.6 L415.9,247.4 L417.1,245.7 L418.2,244.1 L419.4,242.8 L420.6,241.7 L421.7,240.9 L422.9,240.4 L424.0,240.4 L425.2,240.9 L426.4,242.2 L427.5,244.3 L428.7,246.9 L429.9,249.9 L431.1,252.9 L432.2,255.7 L433.3,257.9 L434.4,259.4 L435.4,260.2 L436.4,260.5 L437.3,260.4 L438.3,260.1 L439.2,259.5 L440.1,258.7 L441.0,257.7 L441.9,256.7 L442.8,255.3 L443.8,253.3 L444.7,251.0 L445.6,248.7 L446.5,246.4 L447.5,244.5 L448.4,243.2 L449.3,242.8 L450.2,243.3 L451.2,244.6 L452.1,246.4 L453.0,248.6 L453.9,251.1 L454.9,253.5 L455.8,255.7 L456.7,257.6 L457.6,259.4 L458.5,261.6 L459.3,263.8 L460.2,265.9 L461.1,267.7 L462.0,268.9 L463.0,269.3 L464.1,268.7 L465.3,266.7 L466.7,263.3 L468.2,259.0 L469.7,254.2 L471.1,249.4 L472.6,245.0 L474.0,241.4 L475.2,239.1 L476.3,238.1 L477.3,237.9 L478.3,238.4 L479.2,239.4 L480.0,240.7 L480.9,242.1 L481.7,243.5 L482.6,244.6 L483.5,245.8 L484.3,247.3 L485.1,248.9 L485.8,250.6 L486.6,252.1 L487.5,253.4 L488.3,254.2 L489.3,254.4 L490.3,253.9 L491.5,252.8 L492.6,251.2 L493.9,249.3 L495.1,247.3 L496.3,245.4 L497.4,243.7 L498.5,242.4 L499.5,241.4 L500.5,240.4 L501.4,239.4 L502.3,238.7 L503.2,238.0 L504.1,237.7 L505.0,237.6 L505.9,237.8 L506.8,238.5 L507.8,239.8 L508.8,241.4 L509.7,243.2 L510.7,245.0 L511.6,246.7 L512.5,248.0 L513.3,248.9 L514.1,249.4 L514.8,249.7 L515.5,249.7 L516.1,249.6 L516.7,249.3 L517.4,248.8 L518.1,248.0 L518.9,247.0 L519.7,245.5 L520.6,243.4 L521.5,240.9 L522.4,238.3 L523.3,235.8 L524.3,233.7 L525.3,232.1 L526.3,231.3 L527.4,231.4 L528.5,232.2 L529.7,233.5 L530.9,235.1 L532.2,237.0 L533.4,238.9 L534.5,240.8 L535.6,242.4 L536.6,244.1 L537.5,246.2 L538.4,248.4 L539.2,250.6 L540.0,252.5 L540.9,253.9 L541.9,254.6 L543.0,254.4 L544.2,252.9 L545.6,250.2 L547.0,246.7 L548.4,242.8 L549.9,238.8 L551.4,235.2 L552.8,232.2 L554.1,230.4 L555.4,229.6 L556.6,229.6 L557.8,230.1 L559.0,231.0 L560.2,232.1 L561.3,233.4 L562.3,234.7 L563.3,235.9 L564.2,237.2 L564.9,238.9 L565.6,240.8 L566.3,242.7 L566.9,244.4 L567.5,245.9 L568.2,246.8 L568.9,247.0 L569.7,246.4 L570.4,245.0 L571.2,243.0 L572.0,240.8 L572.9,238.4 L573.7,236.1 L574.6,234.2 L575.6,232.8 L576.7,231.8 L577.8,231.0 L579.0,230.3 L580.3,229.9 L581.5,229.6 L582.7,229.5 L583.8,229.7 L584.8,230.0 L585.7,230.7 L586.5,231.9 L587.2,233.3 L587.8,234.9 L588.5,236.5 L589.1,238.0 L589.7,239.3 L590.4,240.2 L591.0,240.9 L591.6,241.4 L592.1,241.9 L592.7,242.2 L593.3,242.3 L594.0,242.2 L594.9,241.8 L595.9,241.1 L597.2,239.9 L598.8,238.0 L600.5,235.8 L602.3,233.5 L604.1,231.1 L605.9,229.0 L607.5,227.3 L608.9,226.3 L610.1,225.9 L611.2,225.9 L612.2,226.2 L613.1,226.8 L613.9,227.6 L614.7,228.6 L615.5,229.7 L616.3,230.9 L617.0,232.4 L617.7,234.4 L618.3,236.8 L618.9,239.2 L619.5,241.4 L620.2,243.3 L620.9,244.5 L621.9,244.8 L623.0,244.0 L624.4,242.3 L625.8,239.8 L627.3,237.0 L628.9,234.1 L630.4,231.5 L631.8,229.4 L633.0,228.1 L634.1,227.6 L635.1,227.7 L636.0,228.1 L636.9,228.9 L637.8,229.8 L638.6,230.8 L639.5,231.9 L640.4,232.8 L641.3,233.8 L642.2,235.2 L643.1,236.7 L644.0,238.3 L644.9,239.7 L645.8,240.8 L646.8,241.4 L647.8,241.5 L648.9,240.8 L650.0,239.5 L651.1,237.7 L652.2,235.6 L653.4,233.4 L654.5,231.3 L655.6,229.5 L656.7,228.1 L657.7,227.1 L658.6,226.1 L659.4,225.3 L660.2,224.7 L661.1,224.3 L662.0,224.0 L663.0,224.1 L664.1,224.4 L665.4,225.2 L666.8,226.7 L668.3,228.5 L669.8,230.5 L671.4,232.4 L672.9,234.0 L674.5,235.2 L675.9,235.6 L677.3,235.1 L678.6,233.9 L679.9,232.2 L681.1,230.2 L682.4,228.2 L683.7,226.4 L685.0,225.1 L686.3,224.4 L687.7,224.5 L689.3,225.1 L690.9,226.2 L692.5,227.5 L694.0,228.8 L695.4,230.1 L696.5,231.2 L697.4,231.9" fill="none" stroke="#e23c3c" stroke-width="0.9"/>
<path d="M123.3,269.5a2,2 0 1 0 -4,0a2,2 0 1 0 4,0M127.6,267.8a2,2 0 1 0 -4,0a2,2 0 1 0 4,0M132.0,268.1a2,2 0 1 0 -4,0a2,2 0 1 0 4,0M135.6,270.9a2,2 0 1 0 -4,0a2,2 0 1 0 4,0M138.4,274.5a2,2 0 1 0 -4,0a2,2 0 1 0 4,0M141.2,278.2a2,2 0 1 0 -4,0a2,2 0 1 0 4,0M144.0,281.8a2,2 0 1 0 -4,0a2,2 0 1 0 4,0M147.3,285.0a2,2 0 1 0 -4,0a2,2 0 1 0 4,0M151.5,285.1a2,2 0 1 0 -4,0a2,2 0 1 0 4,0M153.7,281.1a2,2 0 1 0 -4,0a2,2 0 1 0 4,0M155.3,276.8a2,2 0 1 0 -4,0a2,2 0 1 0 4,0M156.9,272.4a2,2 0 1 0 -4,0a2,2 0 1 0 4,0M158.9,268.3a2,2 0 1 0 -4,0a2,2 0 1 0 4,0M162.7,267.5a2,2 0 1 0 -4,0a2,2 0 1 0 4,0M165.4,271.2a2,2 0 1 0 -4,0a2,2 0 1 0 4,0M167.7,275.2a2,2 0 1 0 -4,0a2,2 0 1 0 4,0M170.0,279.2a2,2 0 1 0 -4,0a2,2 0 1 0 4,0M172.8,282.8a2,2 0 1 0 -4,0a2,2 0 1 0 4,0M176.8,283.7a2,2 0 1 0 -4,0a2,2 0 1 0 4,0M179.7,280.2a2,2 0 1 0 -4,0a2,2 0 1 0 4,0M181.9,276.2a2,2 0 1 0 -4,0a2,2 0 1 0 4,0M183.9,272.0a2,2 0 1 0 -4,0a2,2 0 1 0 4,0M186.1,268.0a2,2 0 1 0 -4,0a2,2 0 1 0 4,0M188.6,264.1a2,2 0 1 0 -4,0a2,2 0 1 0 4,0M192.3,262.3a2,2 0 1 0 -4,0a2,2 0 1 0 4,0M195.7,265.2a2,2 0 1 0 -4,0a2,2 0 1 0 4,0M198.3,269.1a2,2 0 1 0 -4,0a2,2 0 1 0 4,0M200.5,273.1a2,2 0 1 0 -4,0a2,2 0 1 0 4,0M202.8,277.1a2,2 0 1 0 -4,0a2,2 0 1 0 4,0M205.4,280.9a2,2 0 1 0 -4,0a2,2 0 1 0 4,0M209.2,281.8a2,2 0 1 0 -4,0a2,2 0 1 0 4,0M211.9,278.1a2,2 0 1 0 -4,0a2,2 0 1 0 4,0M213.8,273.9a2,2 0 1 0 -4,0a2,2 0 1 0 4,0M216.0,269.9a2,2 0 1 0 -4,0a2,2 0 1 0 4,0M220.1,269.2a2,2 0 1 0 -4,0a2,2 0 1 0 4,0M223.4,272.4a2,2 0 1 0 -4,0a2,2 0 1 0 4,0M225.9,276.2a2,2 0 1 0 -4,0a2,2 0 1 0 4,0M228.2,280.2a2,2 0 1 0 -4,0a2,2 0 1 0 4,0M230.7,284.0a2,2 0 1 0 -4,0a2,2 0 1 0 4,0M234.2,286.7a2,2 0 1 0 -4,0a2,2 0 1 0 4,0M236.7,282.9a2,2 0 1 0 -4,0a2,2 0 1 0 4,0M238.1,278.5a2,2 0 1 0 -4,0a2,2 0 1 0 4,0M239.4,274.1a2,2 0 1 0 -4,0a2,2 0 1 0 4,0M240.9,269.8a2,2 0 1 0 -4,0a2,2 0 1 0 4,0M243.8,269.7a2,2 0 1 0 -4,0a2,2 0 1 0 4,0M245.2,274.0a2,2 0 1 0 -4,0a2,2 0 1 0 4,0M246.3,278.5a2,2 0 1 0 -4,0a2,2 0 1 0 4,0M247.3,283.0a2,2 0 1 0 -4,0a2,2 0 1 0 4,0M248.5,287.4a2,2 0 1 0 -4,0a2,2 0 1 0 4,0M250.3,291.6a2,2 0 1 0 -4,0a2,2 0 1 0 4,0M253.1,289.3a2,2 0 1 0 -4,0a2,2 0 1 0 4,0M254.6,284.9a2,2 0 1 0 -4,0a2,2 0 1 0 4,0M255.9,280.5a2,2 0 1 0 -4,0a2,2 0 1 0 4,0M257.2,276.1a2,2 0 1 0 -4,0a2,2 0 1 0 4,0M258.9,271.9a2,2 0 1 0 -4,0a2,2 0 1 0 4,0M261.9,268.4a2,2 0 1 0 -4,0a2,2 0 1 0 4,0M266.0,266.5a2,2 0 1 0 -4,0a2,2 0 1 0 4,0M270.6,266.6a2,2 0 1 0 -4,0a2,2 0 1 0 4,0M274.0,269.4a2,2 0 1 0 -4,0a2,2 0 1 0 4,0M275.4,273.8a2,2 0 1 0 -4,0a2,2 0 1 0 4,0M276.4,278.3a2,2 0 1 0 -4,0a2,2 0 1 0 4,0M277.4,282.8a2,2 0 1 0 -4,0a2,2 0 1 0 4,0M278.8,287.1a2,2 0 1 0 -4,0a2,2 0 1 0 4,0M282.3,287.0a2,2 0 1 0 -4,0a2,2 0 1 0 4,0M284.7,283.1a2,2 0 1 0 -4,0a2,2 0 1 0 4,0M286.7,279.0a2,2 0 1 0 -4,0a2,2 0 1 0 4,0M288.7,274.9a2,2 0 1 0 -4,0a2,2 0 1 0 4,0M290.8,270.7a2,2 0 1 0 -4,0a2,2 0 1 0 4,0M293.1,266.8a2,2 0 1 0 -4,0a2,2 0 1 0 4,0M296.6,264.3a2,2 0 1 0 -4,0a2,2 0 1 0 4,0M300.1,267.1a2,2 0 1 0 -4,0a2,2 0 1 0 4,0M302.6,271.0a2,2 0 1 0 -4,0a2,2 0 1 0 4,0M305.2,274.8a2,2 0 1 0 -4,0a2,2 0 1 0 4,0M308.3,273.4a2,2 0 1 0 -4,0a2,2 0 1 0 4,0M309.5,269.0a2,2 0 1 0 -4,0a2,2 0 1 0 4,0M311.5,264.9a2,2 0 1 0 -4,0a2,2 0 1 0 4,0M315.5,262.7a2,2 0 1 0 -4,0a2,2 0 1 0 4,0M320.0,262.9a2,2 0 1 0 -4,0a2,2 0 1 0 4,0M323.3,266.0a2,2 0 1 0 -4,0a2,2 0 1 0 4,0M325.9,269.8a2,2 0 1 0 -4,0a2,2 0 1 0 4,0M328.8,273.3a2,2 0 1 0 -4,0a2,2 0 1 0 4,0M333.0,273.5a2,2 0 1 0 -4,0a2,2 0 1 0 4,0M336.0,270.2a2,2 0 1 0 -4,0a2,2 0 1 0 4,0M338.6,266.4a2,2 0 1 0 -4,0a2,2 0 1 0 4,0M341.2,262.6a2,2 0 1 0 -4,0a2,2 0 1 0 4,0M344.1,259.0a2,2 0 1 0 -4,0a2,2 0 1 0 4,0M348.2,258.0a2,2 0 1 0 -4,0a2,2 0 1 0 4,0M351.4,261.3a2,2 0 1 0 -4,0a2,2 0 1 0 4,0M353.8,265.2a2,2 0 1 0 -4,0a2,2 0 1 0 4,0M356.3,269.1a2,2 0 1 0 -4,0a2,2 0 1 0 4,0M359.4,272.4a2,2 0 1 0 -4,0a2,2 0 1 0 4,0M362.7,275.7a2,2 0 1 0 -4,0a2,2 0 1 0 4,0M366.8,276.1a2,2 0 1 0 -4,0a2,2 0 1 0 4,0M368.1,271.8a2,2 0 1 0 -4,0a2,2 0 1 0 4,0M368.8,267.2a2,2 0 1 0 -4,0a2,2 0 1 0 4,0M369.3,262.7a2,2 0 1 0 -4,0a2,2 0 1 0 4,0M370.0,258.1a2,2 0 1 0 -4,0a2,2 0 1 0 4,0M371.8,254.1a2,2 0 1 0 -4,0a2,2 0 1 0 4,0M374.6,257.2a2,2 0 1 0 -4,0a2,2 0 1 0 4,0M376.4,261.4a2,2 0 1 0 -4,0a2,2 0 1 0 4,0M378.1,265.6a2,2 0 1 0 -4,0a2,2 0 1 0 4,0M379.7,270.0a2,2 0 1 0 -4,0a2,2 0 1 0 4,0M381.3,274.3a2,2 0 1 0 -4,0a2,2 0 1 0 4,0M382.9,278.6a2,2 0 1 0 -4,0a2,2 0 1 0 4,0M384.7,282.8a2,2 0 1 0 -4,0a2,2 0 1 0 4,0M387.0,286.8a2,2 0 1 0 -4,0a2,2 0 1 0 4,0M390.8,288.5a2,2 0 1 0 -4,0a2,2 0 1 0 4,0M393.9,285.1a2,2 0 1 0 -4,0a2,2 0 1 0 4,0M395.9,281.0a2,2 0 1 0 -4,0a2,2 0 1 0 4,0M397.4,276.7a2,2 0 1 0 -4,0a2,2 0 1 0 4,0M398.3,272.2a2,2 0 1 0 -4,0a2,2 0 1 0 4,0M399.1,267.6a2,2 0 1 0 -4,0a2,2 0 1 0 4,0M399.8,263.1a2,2 0 1 0 -4,0a2,2 0 1 0 4,0M400.6,258.6a2,2 0 1 0 -4,0a2,2 0 1 0 4,0M401.5,254.0a2,2 0 1 0 -4,0a2,2 0 1 0 4,0M403.4,250.5a2,2 0 1 0 -4,0a2,2 0 1 0 4,0M405.0,254.7a2,2 0 1 0 -4,0a2,2 0 1 0 4,0M406.0,259.2a2,2 0 1 0 -4,0a2,2 0 1 0 4,0M406.8,263.7a2,2 0 1 0 -4,0a2,2 0 1 0 4,0M407.7,268.2a2,2 0 1 0 -4,0a2,2 0 1 0 4,0M408.8,272.7a2,2 0 1 0 -4,0a2,2 0 1 0 4,0M411.2,275.8a2,2 0 1 0 -4,0a2,2 0 1 0 4,0M413.5,271.9a2,2 0 1 0 -4,0a2,2 0 1 0 4,0M415.0,267.6a2,2 0 1 0 -4,0a2,2 0 1 0 4,0M416.5,263.3a2,2 0 1 0 -4,0a2,2 0 1 0 4,0M418.0,258.9a2,2 0 1 0 -4,0a2,2 0 1 0 4,0M419.9,254.7a2,2 0 1 0 -4,0a2,2 0 1 0 4,0M422.2,250.8a2,2 0 1 0 -4,0a2,2 0 1 0 4,0M424.8,247.0a2,2 0 1 0 -4,0a2,2 0 1 0 4,0M428.8,245.5a2,2 0 1 0 -4,0a2,2 0 1 0 4,0M431.0,249.4a2,2 0 1 0 -4,0a2,2 0 1 0 4,0M432.4,253.8a2,2 0 1 0 -4,0a2,2 0 1 0 4,0M433.7,258.2a2,2 0 1 0 -4,0a2,2 0 1 0 4,0M435.1,262.6a2,2 0 1 0 -4,0a2,2 0 1 0 4,0M437.0,266.7a2,2 0 1 0 -4,0a2,2 0 1 0 4,0M440.8,266.4a2,2 0 1 0 -4,0a2,2 0 1 0 4,0M443.4,262.6a2,2 0 1 0 -4,0a2,2 0 1 0 4,0M445.7,258.7a2,2 0 1 0 -4,0a2,2 0 1 0 4,0M448.0,254.7a2,2 0 1 0 -4,0a2,2 0 1 0 4,0M451.0,251.3a2,2 0 1 0 -4,0a2,2 0 1 0 4,0M454.4,253.6a2,2 0 1 0 -4,0a2,2 0 1 0 4,0M456.1,257.9a2,2 0 1 0 -4,0a2,2 0 1 0 4,0M458.0,262.1a2,2 0 1 0 -4,0a2,2 0 1 0 4,0M460.6,265.9a2,2 0 1 0 -4,0a2,2 0 1 0 4,0M463.2,269.7a2,2 0 1 0 -4,0a2,2 0 1 0 4,0M466.0,273.3a2,2 0 1 0 -4,0a2,2 0 1 0 4,0M469.9,274.1a2,2 0 1 0 -4,0a2,2 0 1 0 4,0M471.6,269.8a2,2 0 1 0 -4,0a2,2 0 1 0 4,0M472.5,265.3a2,2 0 1 0 -4,0a2,2 0 1 0 4,0M473.3,260.8a2,2 0 1 0 -4,0a2,2 0 1 0 4,0M474.0,256.2a2,2 0 1 0 -4,0a2,2 0 1 0 4,0M474.9,251.7a2,2 0 1 0 -4,0a2,2 0 1 0 4,0M476.1,247.3a2,2 0 1 0 -4,0a2,2 0 1 0 4,0M479.5,246.3a2,2 0 1 0 -4,0a2,2 0 1 0 4,0M482.2,250.0a2,2 0 1 0 -4,0a2,2 0 1 0 4,0M484.5,254.0a2,2 0 1 0 -4,0a2,2 0 1 0 4,0M487.0,257.9a2,2 0 1 0 -4,0a2,2 0 1 0 4,0M490.7,259.9a2,2 0 1 0 -4,0a2,2 0 1 0 4,0M494.5,257.4a2,2 0 1 0 -4,0a2,2 0 1 0 4,0M497.5,253.9a2,2 0 1 0 -4,0a2,2 0 1 0 4,0M500.6,250.6a2,2 0 1 0 -4,0a2,2 0 1 0 4,0M503.9,247.4a2,2 0 1 0 -4,0a2,2 0 1 0 4,0M507.9,246.1a2,2 0 1 0 -4,0a2,2 0 1 0 4,0M510.4,249.9a2,2 0 1 0 -4,0a2,2 0 1 0 4,0M512.3,254.1a2,2 0 1 0 -4,0a2,2 0 1 0 4,0M514.5,258.2a2,2 0 1 0 -4,0a2,2 0 1 0 4,0M518.0,259.2a2,2 0 1 0 -4,0a2,2 0 1 0 4,0M520.2,255.2a2,2 0 1 0 -4,0a2,2 0 1 0 4,0M521.8,250.9a2,2 0 1 0 -4,0a2,2 0 1 0 4,0M523.4,246.6a2,2 0 1 0 -4,0a2,2 0 1 0 4,0M525.2,242.3a2,2 0 1 0 -4,0a2,2 0 1 0 4,0M528.0,238.9a2,2 0 1 0 -4,0a2,2 0 1 0 4,0M531.4,241.5a2,2 0 1 0 -4,0a2,2 0 1 0 4,0M533.4,245.6a2,2 0 1 0 -4,0a2,2 0 1 0 4,0M535.3,249.8a2,2 0 1 0 -4,0a2,2 0 1 0 4,0M537.4,253.9a2,2 0 1 0 -4,0a2,2 0 1 0 4,0M540.2,257.5a2,2 0 1 0 -4,0a2,2 0 1 0 4,0M544.1,256.5a2,2 0 1 0 -4,0a2,2 0 1 0 4,0M547.0,252.9a2,2 0 1 0 -4,0a2,2 0 1 0 4,0M549.4,249.0a2,2 0 1 0 -4,0a2,2 0 1 0 4,0M551.9,245.2a2,2 0 1 0 -4,0a2,2 0 1 0 4,0M555.1,241.9a2,2 0 1 0 -4,0a2,2 0 1 0 4,0M558.8,243.6a2,2 0 1 0 -4,0a2,2 0 1 0 4,0M561.0,247.6a2,2 0 1 0 -4,0a2,2 0 1 0 4,0M562.8,251.9a2,2 0 1 0 -4,0a2,2 0 1 0 4,0M564.9,256.0a2,2 0 1 0 -4,0a2,2 0 1 0 4,0M568.5,257.7a2,2 0 1 0 -4,0a2,2 0 1 0 4,0M571.6,254.4a2,2 0 1 0 -4,0a2,2 0 1 0 4,0M574.0,250.4a2,2 0 1 0 -4,0a2,2 0 1 0 4,0M576.3,246.4a2,2 0 1 0 -4,0a2,2 0 1 0 4,0M578.8,242.6a2,2 0 1 0 -4,0a2,2 0 1 0 4,0M581.7,239.6a2,2 0 1 0 -4,0a2,2 0 1 0 4,0M585.3,242.4a2,2 0 1 0 -4,0a2,2 0 1 0 4,0M588.0,246.0a2,2 0 1 0 -4,0a2,2 0 1 0 4,0M590.8,249.7a2,2 0 1 0 -4,0a2,2 0 1 0 4,0M593.9,253.1a2,2 0 1 0 -4,0a2,2 0 1 0 4,0M597.9,255.0a2,2 0 1 0 -4,0a2,2 0 1 0 4,0M601.1,251.7a2,2 0 1 0 -4,0a2,2 0 1 0 4,0M603.1,247.6a2,2 0 1 0 -4,0a2,2 0 1 0 4,0M605.0,243.4a2,2 0 1 0 -4,0a2,2 0 1 0 4,0M606.9,239.2a2,2 0 1 0 -4,0a2,2 0 1 0 4,0M609.3,235.3a2,2 0 1 0 -4,0a2,2 0 1 0 4,0M612.8,236.6a2,2 0 1 0 -4,0a2,2 0 1 0 4,0M614.6,240.9a2,2 0 1 0 -4,0a2,2 0 1 0 4,0M616.1,245.2a2,2 0 1 0 -4,0a2,2 0 1 0 4,0M617.5,249.6a2,2 0 1 0 -4,0a2,2 0 1 0 4,0M619.0,254.0a2,2 0 1 0 -4,0a2,2 0 1 0 4,0M621.1,258.0a2,2 0 1 0 -4,0a2,2 0 1 0 4,0M624.3,256.3a2,2 0 1 0 -4,0a2,2 0 1 0 4,0M626.0,252.0a2,2 0 1 0 -4,0a2,2 0 1 0 4,0M627.4,247.7a2,2 0 1 0 -4,0a2,2 0 1 0 4,0M629.0,243.3a2,2 0 1 0 -4,0a2,2 0 1 0 4,0M631.0,239.2a2,2 0 1 0 -4,0a2,2 0 1 0 4,0M634.7,238.1a2,2 0 1 0 -4,0a2,2 0 1 0 4,0M637.8,241.4a2,2 0 1 0 -4,0a2,2 0 1 0 4,0M640.3,245.3a2,2 0 1 0 -4,0a2,2 0 1 0 4,0M642.8,249.2a2,2 0 1 0 -4,0a2,2 0 1 0 4,0M645.3,253.0a2,2 0 1 0 -4,0a2,2 0 1 0 4,0M648.4,256.3a2,2 0 1 0 -4,0a2,2 0 1 0 4,0M651.9,254.8a2,2 0 1 0 -4,0a2,2 0 1 0 4,0M653.7,250.5a2,2 0 1 0 -4,0a2,2 0 1 0 4,0M654.8,246.1a2,2 0 1 0 -4,0a2,2 0 1 0 4,0M656.0,241.6a2,2 0 1 0 -4,0a2,2 0 1 0 4,0M657.2,237.2a2,2 0 1 0 -4,0a2,2 0 1 0 4,0M659.4,233.2a2,2 0 1 0 -4,0a2,2 0 1 0 4,0M663.0,230.5a2,2 0 1 0 -4,0a2,2 0 1 0 4,0M667.5,230.4a2,2 0 1 0 -4,0a2,2 0 1 0 4,0M670.8,233.4a2,2 0 1 0 -4,0a2,2 0 1 0 4,0M672.7,237.6a2,2 0 1 0 -4,0a2,2 0 1 0 4,0M674.5,241.9a2,2 0 1 0 -4,0a2,2 0 1 0 4,0M677.1,245.6a2,2 0 1 0 -4,0a2,2 0 1 0 4,0M680.4,243.2a2,2 0 1 0 -4,0a2,2 0 1 0 4,0M682.3,239.1a2,2 0 1 0 -4,0a2,2 0 1 0 4,0M684.1,234.8a2,2 0 1 0 -4,0a2,2 0 1 0 4,0M686.3,230.8a2,2 0 1 0 -4,0a2,2 0 1 0 4,0M690.1,229.2a2,2 0 1 0 -4,0a2,2 0 1 0 4,0M693.6,232.0a2,2 0 1 0 -4,0a2,2 0 1 0 4,0M696.6,235.6a2,2 0 1 0 -4,0a2,2 0 1 0 4,0M699.4,239.2a2,2 0 1 0 -4,0a2,2 0 1 0 4,0" fill="none" stroke="#1c2c88" stroke-width="0.8"/>
<path d="M121.3,269.5 L122.0,269.3 L122.9,268.9 L123.9,268.4 L125.1,267.9 L126.4,267.6 L127.8,267.5 L129.4,267.7 L131.0,268.5 L132.8,270.1 L134.8,272.4 L137.0,275.3 L139.3,278.4 L141.6,281.3 L143.8,283.8 L145.9,285.4 L147.8,286.0 L149.4,285.1 L150.9,282.9 L152.2,279.8 L153.5,276.3 L154.7,272.9 L156.0,269.8 L157.4,267.6 L158.9,266.7 L160.6,267.4 L162.3,269.4 L164.1,272.4 L166.0,275.7 L167.9,279.0 L169.9,281.8 L171.8,283.8 L173.7,284.3 L175.6,283.1 L177.6,280.5 L179.5,277.0 L181.5,273.0 L183.5,269.0 L185.4,265.5 L187.4,263.0 L189.4,262.0 L191.4,262.7 L193.5,264.9 L195.6,268.0 L197.7,271.6 L199.8,275.3 L201.7,278.6 L203.5,281.2 L205.2,282.4 L206.7,282.3 L208.0,281.1 L209.2,279.3 L210.4,277.0 L211.4,274.6 L212.4,272.3 L213.4,270.5 L214.4,269.4 L215.3,268.9 L216.1,268.6 L216.9,268.7 L217.6,268.9 L218.3,269.4 L219.1,270.0 L220.0,270.9 L221.0,271.9 L222.2,273.4 L223.5,275.5 L225.0,278.0 L226.5,280.6 L228.0,283.1 L229.5,285.1 L230.9,286.4 L232.2,286.7 L233.4,285.7 L234.5,283.4 L235.6,280.3 L236.6,276.8 L237.6,273.3 L238.6,270.4 L239.6,268.5 L240.6,268.0 L241.6,269.3 L242.7,272.1 L243.7,276.0 L244.7,280.3 L245.7,284.6 L246.8,288.4 L247.8,291.1 L248.9,292.2 L250.0,291.5 L251.0,289.4 L252.1,286.4 L253.2,282.7 L254.3,278.9 L255.5,275.2 L256.8,272.1 L258.1,270.0 L259.6,268.6 L261.2,267.6 L262.9,266.8 L264.7,266.3 L266.5,266.2 L268.2,266.4 L269.7,267.0 L271.1,268.0 L272.2,269.8 L273.2,272.6 L274.0,276.0 L274.7,279.6 L275.4,283.1 L276.3,286.0 L277.3,287.9 L278.5,288.5 L280.0,287.4 L281.8,284.8 L283.7,281.2 L285.7,277.0 L287.7,272.8 L289.7,269.0 L291.6,266.0 L293.3,264.4 L294.9,264.3 L296.5,265.2 L298.0,267.0 L299.5,269.2 L300.9,271.4 L302.1,273.5 L303.3,275.0 L304.4,275.6 L305.3,275.3 L306.0,274.3 L306.5,272.8 L307.0,271.1 L307.4,269.3 L307.9,267.5 L308.5,266.1 L309.3,265.0 L310.2,264.3 L311.3,263.6 L312.4,263.1 L313.5,262.7 L314.7,262.5 L316.0,262.4 L317.2,262.7 L318.5,263.1 L319.8,264.1 L321.1,265.6 L322.4,267.6 L323.7,269.6 L325.1,271.6 L326.5,273.2 L328.0,274.1 L329.6,274.3 L331.3,273.3 L333.1,271.4 L335.0,268.8 L337.0,265.8 L339.0,262.9 L340.9,260.3 L342.7,258.5 L344.4,257.6 L346.0,257.9 L347.5,258.9 L349.0,260.6 L350.3,262.7 L351.7,265.0 L353.0,267.2 L354.3,269.1 L355.6,270.6 L356.9,271.8 L358.1,273.2 L359.4,274.4 L360.6,275.6 L361.7,276.4 L362.8,276.8 L363.8,276.8 L364.8,276.1 L365.6,274.3 L366.2,271.2 L366.8,267.4 L367.2,263.3 L367.8,259.4 L368.4,256.2 L369.3,254.2 L370.4,253.9 L371.8,255.7 L373.6,259.3 L375.5,264.1 L377.6,269.6 L379.7,275.3 L381.7,280.4 L383.6,284.6 L385.2,287.2 L386.6,288.4 L388.0,288.7 L389.2,288.4 L390.3,287.4 L391.4,286.0 L392.4,284.2 L393.4,282.1 L394.4,279.8 L395.4,276.8 L396.2,272.7 L397.1,267.9 L397.9,262.9 L398.6,258.2 L399.4,254.2 L400.2,251.4 L401.1,250.2 L402.0,251.1 L402.9,253.9 L403.7,257.9 L404.6,262.6 L405.6,267.4 L406.5,271.6 L407.5,274.7 L408.5,276.1 L409.6,275.6 L410.7,273.8 L411.9,271.0 L413.0,267.6 L414.2,264.0 L415.4,260.4 L416.6,257.2 L417.8,254.8 L419.0,252.9 L420.1,250.9 L421.3,249.1 L422.4,247.5 L423.5,246.2 L424.7,245.4 L425.8,245.2 L427.0,245.6 L428.1,247.1 L429.2,249.9 L430.3,253.3 L431.4,257.2 L432.5,260.9 L433.7,264.2 L435.0,266.7 L436.3,267.8 L437.8,267.4 L439.4,265.7 L441.2,263.1 L442.9,260.1 L444.7,257.0 L446.4,254.2 L447.9,252.1 L449.3,251.1 L450.5,251.2 L451.5,252.1 L452.3,253.5 L453.1,255.4 L453.9,257.4 L454.7,259.5 L455.6,261.4 L456.7,263.1 L457.9,264.8 L459.3,266.9 L460.8,269.1 L462.2,271.2 L463.7,273.1 L465.2,274.3 L466.6,274.8 L467.8,274.3 L468.9,272.3 L469.8,268.9 L470.6,264.6 L471.4,259.8 L472.2,255.0 L473.1,250.7 L474.1,247.4 L475.2,245.6 L476.5,245.5 L477.9,246.7 L479.5,248.9 L481.1,251.6 L482.7,254.4 L484.3,257.1 L485.9,259.0 L487.4,260.0 L488.9,259.9 L490.3,259.2 L491.8,258.0 L493.2,256.5 L494.7,254.9 L496.0,253.3 L497.3,251.8 L498.5,250.7 L499.6,249.8 L500.6,248.8 L501.5,247.8 L502.3,246.9 L503.1,246.3 L504.0,245.8 L504.9,245.8 L505.9,246.1 L507.0,247.2 L508.0,249.1 L509.2,251.5 L510.3,254.1 L511.5,256.6 L512.7,258.6 L513.9,259.8 L515.2,260.0 L516.5,258.7 L517.8,256.2 L519.1,252.8 L520.5,249.0 L521.9,245.3 L523.3,242.0 L524.8,239.7 L526.3,238.7 L527.8,239.4 L529.4,241.5 L531.0,244.6 L532.6,248.1 L534.2,251.7 L535.9,254.8 L537.6,257.1 L539.3,258.1 L541.1,257.5 L543.0,255.7 L544.9,253.1 L546.8,250.0 L548.7,246.9 L550.6,244.2 L552.4,242.2 L554.1,241.5 L555.7,242.2 L557.1,244.1 L558.5,246.7 L559.9,249.7 L561.2,252.7 L562.5,255.4 L563.8,257.3 L565.2,258.1 L566.6,257.7 L568.1,256.3 L569.6,254.3 L571.1,251.9 L572.6,249.4 L574.0,246.9 L575.2,244.8 L576.3,243.3 L577.1,242.2 L577.7,241.3 L578.1,240.5 L578.5,239.9 L578.8,239.5 L579.3,239.4 L580.1,239.7 L581.1,240.2 L582.5,241.4 L584.1,243.5 L586.0,246.0 L588.0,248.7 L590.0,251.2 L592.1,253.4 L594.1,254.7 L595.9,255.0 L597.6,253.8 L599.3,251.3 L601.0,248.0 L602.6,244.2 L604.2,240.5 L605.8,237.4 L607.4,235.3 L608.9,234.6 L610.4,235.8 L611.8,238.6 L613.2,242.4 L614.6,246.7 L615.9,251.0 L617.3,254.8 L618.6,257.6 L620.0,258.7 L621.3,257.9 L622.6,255.6 L623.9,252.2 L625.2,248.3 L626.5,244.4 L627.9,240.9 L629.4,238.4 L631.1,237.4 L633.0,238.2 L635.1,240.4 L637.3,243.6 L639.6,247.2 L641.9,250.9 L644.0,254.0 L646.0,256.2 L647.8,256.9 L649.3,255.9 L650.5,253.7 L651.6,250.5 L652.6,246.8 L653.6,243.0 L654.6,239.3 L655.6,236.2 L656.7,234.0 L657.9,232.6 L659.2,231.5 L660.5,230.7 L661.9,230.2 L663.2,230.0 L664.5,230.1 L665.8,230.5 L667.0,231.1 L668.2,232.3 L669.3,234.3 L670.4,236.8 L671.4,239.4 L672.5,241.9 L673.6,244.0 L674.7,245.5 L675.9,245.9 L677.1,245.1 L678.4,243.2 L679.6,240.6 L680.9,237.6 L682.2,234.6 L683.6,231.9 L684.9,229.9 L686.3,228.9 L687.8,229.0 L689.4,230.0 L691.1,231.5 L692.8,233.4 L694.5,235.4 L695.9,237.3 L697.2,239.0 L698.1,240.0" fill="none" stroke="#1e2e8c" stroke-width="0.8"/>
<path d="M65.0,309.2 L69.2,305.8 L75.8,315.8 L80.8,298.3 L85.0,309.2 L89.2,295.0 L94.2,307.5 L101.7,277.5 L106.7,281.7 L110.8,273.3 L120.0,303.3 L126.7,275.0 L133.3,276.7 L138.3,278.3 L145.0,297.5 L150.0,288.3 L158.6,273.0 L166.7,285.0 L172.0,296.0 L174.2,298.3 L181.7,278.3 L189.2,261.7 L193.3,273.3 L203.3,290.8 L208.3,276.7 L214.2,264.2 L220.0,271.7 L228.3,283.3 L235.0,275.0 L241.7,265.0 L250.0,283.3 L256.7,271.7 L265.0,266.7 L271.7,263.3 L274.2,269.2 L278.3,285.8 L283.9,274.7 L293.6,262.2 L300.6,270.6 L306.1,276.8 L313.1,265.0 L321.4,267.8 L329.7,284.4 L338.1,270.6 L346.4,253.2 L350.6,262.2 L356.1,275.4 L364.4,266.4 L370.0,250.0 L376.7,258.3 L383.3,270.0 L390.0,264.2 L396.7,256.7 L403.3,268.3 L408.3,278.3 L416.7,261.7 L425.0,251.7 L431.7,267.5 L438.3,289.2 L445.0,270.0 L450.0,255.0 L458.3,270.0 L466.7,269.2 L470.0,265.0 L476.7,248.3 L481.7,256.7 L490.8,271.7 L496.7,261.7 L503.3,253.3 L510.0,264.2 L518.3,250.0 L526.7,241.7 L533.3,250.0 L540.0,256.7 L548.3,250.0 L556.7,243.3 L565.0,251.7 L573.3,250.0 L583.3,246.7 L588.5,249.4 L597.8,248.5 L608.9,237.4 L618.1,255.0 L631.1,236.5 L640.4,240.0 L646.3,251.9 L656.7,237.0 L665.6,234.8 L674.4,244.4 L686.3,231.1 L693.7,237.8 L698.1,240.0" fill="none" stroke="#000" stroke-width="1.6" stroke-linejoin="round"/>
<rect x="52.3" y="202.4" width="655.2" height="168.70000000000002" fill="none" stroke="#000" stroke-width="1.3"/>
<line x1="51.699999999999996" y1="371.1" x2="708.5" y2="371.1" stroke="#000" stroke-width="2"/>
<line x1="707.5" y1="202.4" x2="707.5" y2="372.1" stroke="#000" stroke-width="2"/>
<line x1="54.2" y1="371.1" x2="54.2" y2="374.5" stroke="#000" stroke-width="1"/>
<rect x="193" y="195.8" width="2.2" height="1.3" fill="#000"/>
<!-- legend -->
<rect x="131" y="310.7" width="184" height="62" fill="none" stroke="#000" stroke-width="1.2"/>
<line x1="146" y1="321.8" x2="187" y2="321.8" stroke="#000" stroke-width="2.2"/>
<line x1="146" y1="334.3" x2="187" y2="334.3" stroke="#c85a5a" stroke-width="2"/>
<path d="M137,336.3L140,331.3L143,336.3Z M188,336.3L191,331.3L194,336.3Z" fill="none" stroke="#c85a5a" stroke-width="1"/>
<line x1="146" y1="346.4" x2="187" y2="346.4" stroke="#5060a8" stroke-width="1.3"/>
<path d="M143,347a2.5,2.2 0 1 0 -5,0 M194,347a2.5,2.2 0 1 0 -5,0" fill="none" stroke="#5060a8" stroke-width="1"/>
<line x1="146" y1="358.6" x2="187" y2="358.6" stroke="#9040b0" stroke-width="1.3"/>
<path d="M137.5,356.5l4,4m0,-4l-4,4 M189,356.5l4,4m0,-4l-4,4" fill="none" stroke="#7a30a0" stroke-width="1.3"/>
<g font-family="Liberation Serif" font-size="10.5" fill="#222" opacity="0.85">
<text x="203" y="325.5" textLength="65" lengthAdjust="spacingAndGlyphs">GFS(MRF)</text>
<text x="203" y="338" textLength="18" lengthAdjust="spacingAndGlyphs">EC</text>
<text x="203" y="350" textLength="19" lengthAdjust="spacingAndGlyphs">UK</text>
<text x="203" y="362.5" textLength="31" lengthAdjust="spacingAndGlyphs">CDAS</text>
</g>

<!-- overlay texts -->
<g font-family="Liberation Sans" font-weight="bold" font-size="18.2" fill="#000">
<text x="119" y="223.9" textLength="94" lengthAdjust="spacingAndGlyphs">“Anomaly</text>
<text x="108" y="247.9" textLength="117" lengthAdjust="spacingAndGlyphs">Correlation”</text>
</g>
<g font-family="Liberation Sans" font-size="17.6" fill="#000" letter-spacing="0.45">
<text x="349.5" y="305" textLength="319" lengthAdjust="spacingAndGlyphs">An expression of how well predicted</text>
<text x="356" y="329.3" textLength="307" lengthAdjust="spacingAndGlyphs">anomalies correspond to observed</text>
<text x="463.5" y="353" textLength="91" lengthAdjust="spacingAndGlyphs">anomalies</text>
</g>
<g font-family="Liberation Sans" font-weight="bold" font-size="17.6" fill="#000" letter-spacing="0.4">
<text x="321" y="377" textLength="376" lengthAdjust="spacingAndGlyphs">One metric of predictive skill of weather</text>
<text x="464.5" y="401" textLength="88.5" lengthAdjust="spacingAndGlyphs">forecasts</text>
</g>
<g fill="#222"><rect x="291" y="394.3" width="12" height="1.5"/><rect x="320" y="394.3" width="2" height="1.5"/><rect x="327" y="394.3" width="6" height="1.5"/><rect x="341" y="394.3" width="2" height="1.5"/><rect x="372" y="394.5" width="1.5" height="1.3"/><rect x="382" y="394.5" width="1.5" height="1.3"/><rect x="429.5" y="394.3" width="2.5" height="1.5"/><rect x="452" y="394.5" width="1.3" height="1.3" fill="#777"/></g>
<!-- italic paragraph -->
<g font-family="Liberation Sans" font-style="italic" font-size="17.8" letter-spacing="0.35" fill="#000">
<text x="76" y="420.5" textLength="548" lengthAdjust="spacingAndGlyphs">Improvements in predictive skill over the past several decades</text>
<text x="65.5" y="444.4" textLength="570" lengthAdjust="spacingAndGlyphs">have been gradual; the sensor web provides an opportunity for a</text>
<text x="256" y="467.8" textLength="190" lengthAdjust="spacingAndGlyphs">“revolutionary” impact</text>
</g>
<!-- NASA logo -->
<g>
<circle cx="44.8" cy="501.7" r="26.7" fill="#1b5fb5"/>
<ellipse cx="44" cy="501" rx="9" ry="21" transform="rotate(-35 44 501)" fill="none" stroke="#dfe8f5" stroke-width="0.9"/>
<path d="M79.4,478.3 L57,494.5 L21,525.6 L22.5,525.6 L61.5,499 Z" fill="#d62828"/>
<path d="M15,509.4 L52,497.5 L53,499.5 Z" fill="#d62828"/>
<text x="45.5" y="507.2" font-family="Liberation Sans" font-weight="bold" font-size="14.5" fill="#fff" text-anchor="middle" textLength="45.5" lengthAdjust="spacingAndGlyphs">NASA</text>
</g>
<!-- source -->
<text x="60" y="498.3" font-family="Liberation Sans" font-weight="bold" font-size="12.3" fill="#000" textLength="620" lengthAdjust="spacing">Source: Fanglin Yang, Environmental Modeling Center, National Centers for Environmental Prediction, NOAA</text>
<text x="3" y="535.5" font-family="Liberation Sans" font-size="7.5" fill="#555">8</text>
</svg>
</body></html>
